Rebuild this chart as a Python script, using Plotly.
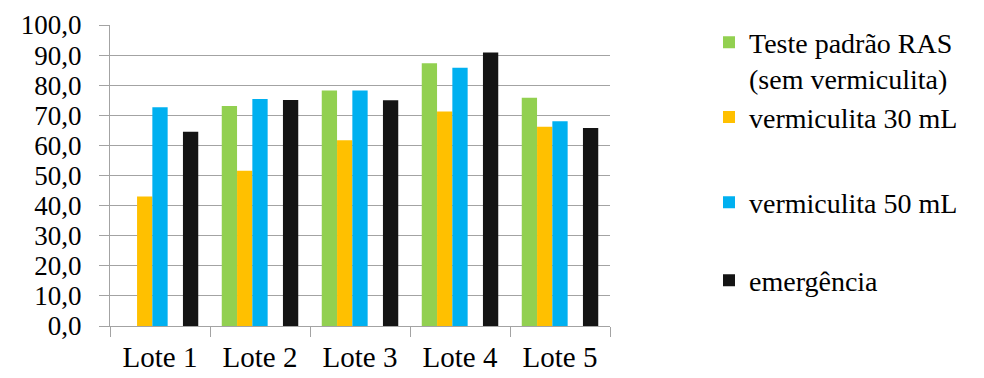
import plotly.graph_objects as go

# Lots and the four measured series (%)
lotes = ["Lote 1", "Lote 2", "Lote 3", "Lote 4", "Lote 5"]
teste_padrao = [None, 73.1, 78.2, 87.3, 75.8]
vermiculita_30 = [43.0, 51.6, 61.7, 71.3, 66.2]
vermiculita_50 = [72.7, 75.4, 78.2, 85.8, 68.0]
emergencia = [64.5, 75.1, 75.0, 90.9, 65.8]

series_names = [
    "Teste padrão RAS<br>(sem vermiculita)",
    "vermiculita 30 mL",
    "vermiculita 50 mL",
    "emergência",
]
series_values = [teste_padrao, vermiculita_30, vermiculita_50, emergencia]
series_colors = ["#92D050", "#FFC000", "#00B0F0", "#141414"]

# Five equal slots per category; the fourth slot is left empty
slot = 0.153
first = -2.5 * slot
slot_index = [0, 1, 2, 4]

# Each series gets its own legend box so the entries can be spread down the right side
legend_ids = ["legend", "legend2", "legend3", "legend4"]
legend_tops = [1.025, 0.776, 0.493, 0.234]

SERIF = "Liberation Serif"
GRID = "#a3a3a3"

fig = go.Figure()
for name, vals, color, k, lid in zip(series_names, series_values, series_colors,
                                      slot_index, legend_ids):
    fig.add_trace(go.Bar(
        x=lotes, y=vals, name=name,
        marker=dict(color=color, line=dict(width=0)),
        width=slot, offset=first + k * slot,
        legend=lid,
    ))

legend_style = dict(
    x=1.198, xanchor="left", yanchor="top",
    font=dict(family=SERIF, size=28, color="black"),
    valign="top", bgcolor="rgba(0,0,0,0)",
)
layout_legends = {lid: dict(legend_style, y=top) for lid, top in zip(legend_ids, legend_tops)}

fig.update_layout(
    width=984, height=378,
    margin=dict(l=110, r=374, t=25, b=52, autoexpand=False),
    paper_bgcolor="white", plot_bgcolor="white",
    barmode="overlay",
    separators=",.",
    font=dict(family=SERIF, color="black"),
    showlegend=True,
    **layout_legends,
)
fig.update_xaxes(
    type="category", range=[-0.5, 4.5], automargin=False,
    showline=True, linecolor=GRID, linewidth=1,
    ticks="outside", tickson="boundaries", ticklen=10, tickcolor=GRID,
    showgrid=False, ticklabelstandoff=5,
    tickfont=dict(family=SERIF, size=29, color="black"),
)
fig.update_yaxes(
    range=[0, 100], dtick=10, tickformat=".1f", automargin=False,
    showline=True, linecolor=GRID, linewidth=1,
    ticks="outside", ticklen=10, tickcolor=GRID,
    showgrid=True, gridcolor=GRID, gridwidth=1,
    zeroline=False, ticklabelstandoff=12,
    tickfont=dict(family=SERIF, size=27, color="black"),
)

fig.write_html("out.html")
